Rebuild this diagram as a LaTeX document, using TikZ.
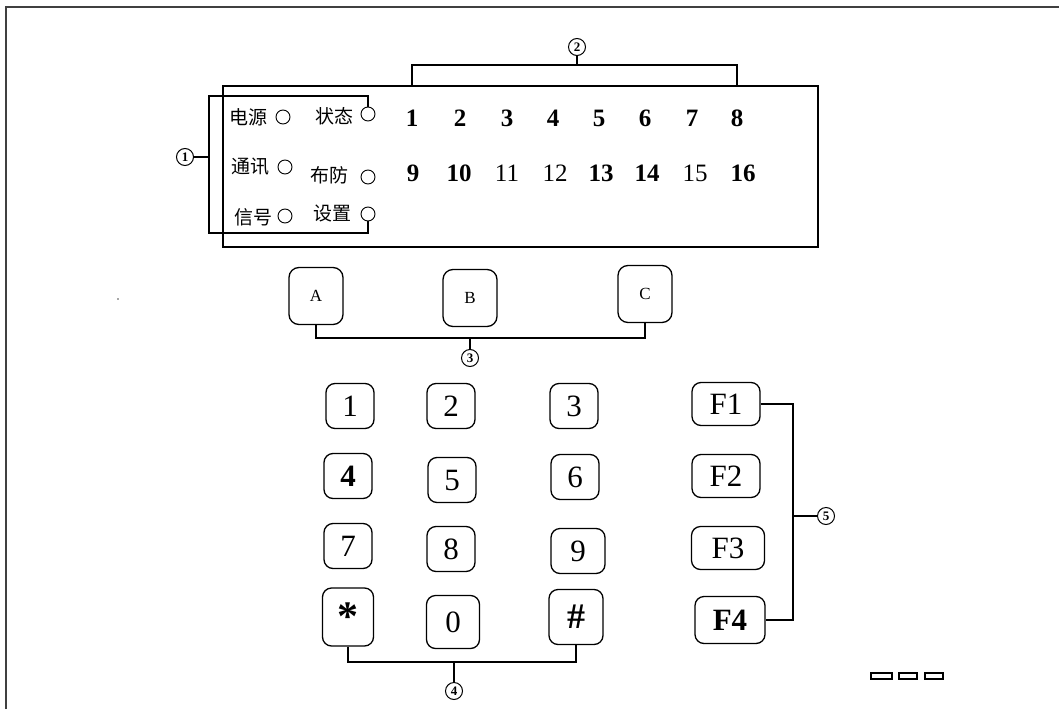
\documentclass[tikz,border=0pt]{standalone}
\usepackage{fontspec}
\setmainfont{Liberation Serif}
\newfontfamily\cjk{Noto Sans CJK SC}
\begin{document}
\begin{tikzpicture}[x=1pt,y=-1pt,line width=1.3pt,
  keybox/.style={draw, rounded corners=9pt, inner sep=0pt, minimum width=48pt, minimum height=45pt, font=\fontsize{31}{31}\selectfont},
  fkey/.style={keybox, minimum width=68pt, minimum height=43pt},
  abc/.style={draw, rounded corners=10pt, inner sep=0pt, minimum width=54pt, minimum height=57pt, font=\fontsize{17}{17}\selectfont},
  led/.style={draw, circle, line width=0.9pt, inner sep=0pt, minimum size=14pt},
  cn/.style={font=\cjk\fontsize{19}{19}\selectfont, inner sep=0pt},
  dnum/.style={font=\fontsize{25}{25}\selectfont\bfseries, inner sep=0pt},
  dnuml/.style={font=\fontsize{25}{25}\selectfont, inner sep=0pt},
  circnum/.style={draw, circle, line width=1pt, inner sep=0pt, minimum size=17pt, font=\fontsize{13}{13}\selectfont\bfseries},
  frame/.style={line width=2pt, draw=black!75}]
\useasboundingbox (0,0) rectangle (1059,709);
% outer frame (top and left edges)
\draw[frame] (6,709) -- (6,7) -- (1059,7);
% display
\node[draw, line width=1.3pt, minimum width=595pt, minimum height=161pt, inner sep=0pt] (disp) at (520.5,166.5) {};
% LED labels and circles
\node[cn] (t1) at (248,117) {电源};
\node[led] (l1) at (283,117) {};
\node[cn] (t2) at (334,116) {状态};
\node[led] (l2) at (368,114) {};
\node[cn] (t3) at (250,167) {通讯};
\node[led] (l3) at (285,167) {};
\node[cn] (t4) at (329,175) {布防};
\node[led] (l4) at (368,177) {};
\node[cn] (t5) at (253,217) {信号};
\node[led] (l5) at (285,216) {};
\node[cn] (t6) at (332,213) {设置};
\node[led] (l6) at (368,214) {};
% display numbers
\node[dnum] (n1) at (412,118) {1};
\node[dnum] (n2) at (460,118) {2};
\node[dnum] (n3) at (507,118) {3};
\node[dnum] (n4) at (553,118) {4};
\node[dnum] (n5) at (599,118) {5};
\node[dnum] (n6) at (645,118) {6};
\node[dnum] (n7) at (692,118) {7};
\node[dnum] (n8) at (737,118) {8};
\node[dnum] (n9) at (413,173) {9};
\node[dnum] (n10) at (459,173) {10};
\node[dnuml] (n11) at (507,173) {11};
\node[dnuml] (n12) at (555,173) {12};
\node[dnum] (n13) at (601,173) {13};
\node[dnum] (n14) at (647,173) {14};
\node[dnuml] (n15) at (695,173) {15};
\node[dnum] (n16) at (743,173) {16};
% bracket 1
\node[circnum] (c1) at (185,157) {1};
\coordinate (bt) at (209,96);
\coordinate (bb) at (209,233);
\coordinate (j1) at (209,157);
\draw (l2.north) |- (bt) -- (bb) -| (l6.south);
\draw (c1.east) -- (j1);
% bracket 2
\node[circnum] (c2) at (577,47) {2};
\coordinate (h2) at (577,65);
\draw (n1 |- disp.north) |- (h2) -| (n8 |- disp.north);
\draw (h2) -- (c2.south);
% A B C
\node[abc] (kA) at (316,296) {A};
\node[abc] (kB) at (470,298) {B};
\node[abc] (kC) at (645,294) {C};
\node[circnum] (c3) at (470,358) {3};
\coordinate (h3) at (470,338);
\draw (kA.south) |- (h3) -| (kC.south);
\draw (h3) -- (c3.north);
% keypad
\node[keybox] (k1) at (350,406) {1};
\node[keybox] (k2) at (451,406) {2};
\node[keybox] (k3) at (574,406) {3};
\node[keybox] (k4) at (348,476) {\bfseries 4};
\node[keybox] (k5) at (452,480) {5};
\node[keybox] (k6) at (575,477) {6};
\node[keybox] (k7) at (348,546) {7};
\node[keybox] (k8) at (451,549) {8};
\node[keybox, minimum width=54pt] (k9) at (578,551) {9};
\node[keybox, minimum width=51pt, minimum height=58pt] (kstar) at (348,617) {\raisebox{-0.3em}{\fontsize{42}{42}\selectfont\bfseries *}};
\node[keybox, minimum width=53pt, minimum height=53pt] (k0) at (453,622) {0};
\node[keybox, minimum width=54pt, minimum height=55pt] (khash) at (576,617) {\fontsize{36}{36}\selectfont\bfseries\#};
\node[circnum] (c4) at (454,691) {4};
\coordinate (h4) at (454,662);
\draw (kstar.south) |- (h4) -| (khash.south);
\draw (h4) -- (c4.north);
% F keys
\node[fkey] (f1) at (726,404) {F1};
\node[fkey] (f2) at (726,476) {F2};
\node[fkey, minimum width=73pt] (f3) at (728,548) {F3};
\node[fkey, minimum width=70pt, minimum height=47pt] (f4) at (730,620) {\bfseries F4};
\node[circnum] (c5) at (826,516) {5};
\coordinate (v5) at (793,516);
\draw (f1.east) -| (v5) |- (f4.east);
\draw (v5) -- (c5.west);
% small rectangles
\draw[line width=1.3pt] (871,673) rectangle (892,679);
\draw[line width=1.3pt] (899,673) rectangle (917,679);
\draw[line width=1.3pt] (925,673) rectangle (943,679);
% speck
\fill[black!70] (118,299) circle (0.8);
\end{tikzpicture}
\end{document}
